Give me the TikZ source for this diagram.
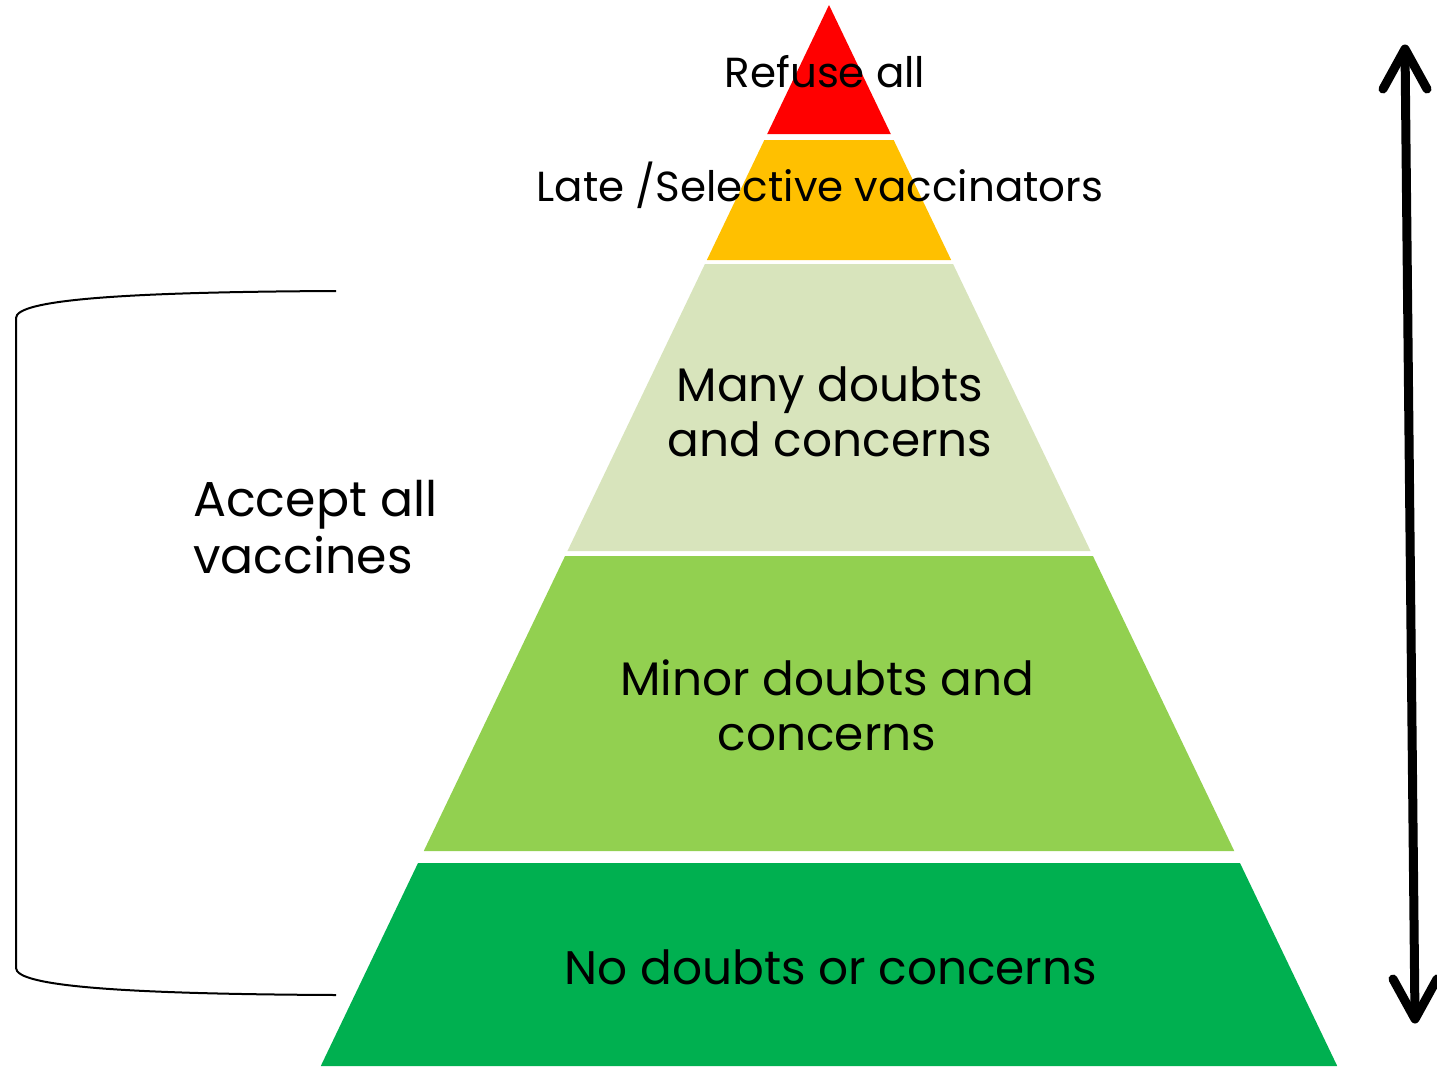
\documentclass[tikz,border=0pt]{standalone}
\usepackage{fontspec}
\setmainfont{Poppins}
\usetikzlibrary{calc}
\definecolor{tRed}{HTML}{FF0000}
\definecolor{tOrange}{HTML}{FFC000}
\definecolor{tLight}{HTML}{D8E4BC}
\definecolor{tGreen}{HTML}{92D050}
\definecolor{tDark}{HTML}{00B050}
\tikzset{
  lbl/.style={text=black, inner sep=0pt, align=center},
  brack/.style={line width=2pt, black},
  bigarrow/.style={line width=9pt, black, line cap=round, line join=round}
}
\newcommand{\fs}[2]{\fontsize{#1}{#2}\selectfont}
\begin{document}
\begin{tikzpicture}[x=1pt,y=-1pt]
\useasboundingbox (0,0) rectangle (1437,1066);
% pyramid: apex (829,5), half-width slope 0.479
\def\ax{829}\def\ay{5}\def\sl{0.479}
\newcommand{\tierpath}[3]{%
  \fill[#3] ({\ax-\sl*(#1-\ay)},#1) -- ({\ax+\sl*(#1-\ay)},#1) --
            ({\ax+\sl*(#2-\ay)},#2) -- ({\ax-\sl*(#2-\ay)},#2) -- cycle;}
\tierpath{5}{134}{tRed}
\tierpath{140}{260}{tOrange}
\tierpath{264}{551}{tLight}
\tierpath{556}{851}{tGreen}
\tierpath{863}{1066}{tDark}

\node[lbl, font=\fs{42}{50}] (refuse) at (825,72) {Refuse all};
\node[lbl, font=\fs{42}{50}] (late) at (820,185) {Late /Selective vaccinators};
\node[lbl, font=\fs{47}{55}] (many) at (830,412) {Many doubts\\and concerns};
\node[lbl, font=\fs{47}{55}] (minor) at (827,705) {Minor doubts and\\concerns};
\node[lbl, font=\fs{47}{55}] (none) at (831,967) {No doubts or concerns};
\node[lbl, font=\fs{49}{57}, align=left, anchor=west] (accept) at (193,527) {Accept all\\vaccines};

% bracket
\coordinate (bt) at (336,291);
\coordinate (bb) at (336,995);
\draw[brack] (bt) .. controls (120,292) and (16,300) .. (16,318) -- (16,968)
  .. controls (16,986) and (120,994) .. (bb);

% arrow
\coordinate (atop) at (1405,49);
\coordinate (abot) at (1415,1019);
\draw[bigarrow, line cap=butt] (atop) -- (abot);
\draw[bigarrow] ($(atop)+(-22,40)$) -- (atop) -- ($(atop)+(22,40)$);
\draw[bigarrow] ($(abot)+(-22,-40)$) -- (abot) -- ($(abot)+(22,-40)$);
\end{tikzpicture}
\end{document}
